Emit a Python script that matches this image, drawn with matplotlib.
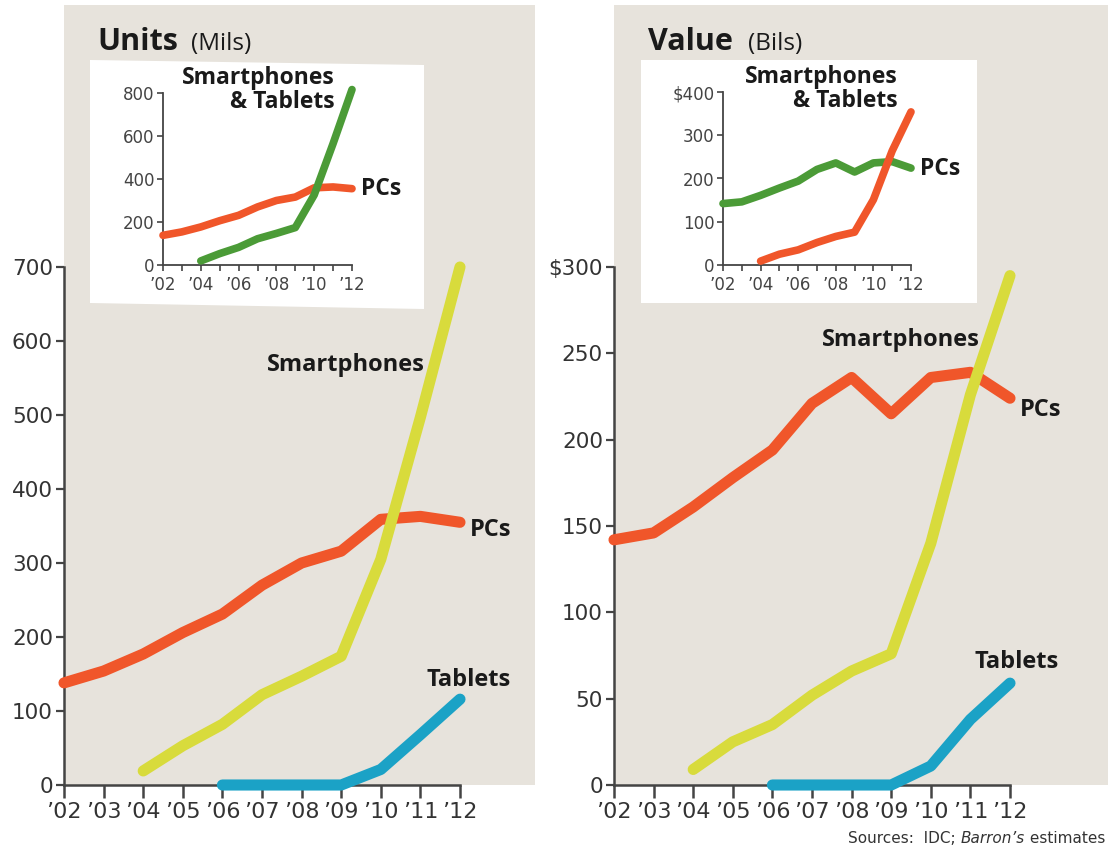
import matplotlib
matplotlib.use("Agg")
import matplotlib.pyplot as plt
import numpy as np
from matplotlib.patches import Polygon, Rectangle
from matplotlib.ticker import FixedLocator

# Shipments (millions of units) and sales (billions of dollars), 2002-2012
years = [2002, 2003, 2004, 2005, 2006, 2007, 2008, 2009, 2010, 2011, 2012]
phone_years = years[2:]
tablet_years = years[4:]

units_pcs = [138, 154, 177, 206, 231, 270, 300, 316, 359, 363, 355]
units_phones = [19, 53, 82, 122, 147, 174, 305, 497, 700]
units_tablets = [0, 0, 0, 0, 21, 68, 116]

value_pcs = [142, 146, 161, 178, 194, 221, 236, 215, 236, 239, 224]
value_phones = [9, 25, 35, 52, 66, 76, 140, 226, 295]
value_tablets = [0, 0, 0, 0, 11, 38, 59]

year_labels = ["\u201902", "\u201903", "\u201904", "\u201905", "\u201906", "\u201907",
               "\u201908", "\u201909", "\u201910", "\u201911", "\u201912"]

RED = "#f0562a"
YELLOW = "#d8db3c"
BLUE = "#1ba2c6"
GREEN = "#4b9b37"
PANEL = "#e7e3dc"
INK = "#333333"

W, H = 1108, 847
LABEL_FONT = ["Open Sans", "DejaVu Sans"]
TICK_FONT = ["DejaVu Sans"]

fig = plt.figure(figsize=(W / 100, H / 100), dpi=100)
fig.patch.set_facecolor("white")


def add_px_axes(left, top, right, bottom, **kw):
    return fig.add_axes([left / W, 1 - bottom / H, (right - left) / W, (bottom - top) / H], **kw)


def combined(phones, tablets):
    # smartphones + tablets, tablets only counted from 2006 on
    total = np.array(phones, dtype=float)
    total[2:] += np.array(tablets, dtype=float)
    return total


def style_main(ax, ymax_tick, ystep, yfmt):
    ax.set_facecolor(PANEL)
    for s in ("top", "right"):
        ax.spines[s].set_visible(False)
    for s in ("left", "bottom"):
        ax.spines[s].set_color("#444444")
        ax.spines[s].set_linewidth(1.8)
    ax.spines["left"].set_bounds(0, ymax_tick)
    ax.spines["bottom"].set_bounds(2002, 2012)
    yt = list(range(0, ymax_tick + 1, ystep))
    ax.set_yticks(yt)
    ax.set_yticklabels([yfmt(v) for v in yt])
    ax.set_xticks(years)
    ax.set_xticklabels(year_labels)
    ax.tick_params(axis="y", direction="out", length=6, width=1.6, color="#444444",
                   pad=2, labelsize=15.5, labelcolor=INK)
    ax.tick_params(axis="x", direction="out", length=9, width=1.8, color="#444444",
                   pad=3, labelsize=16, labelcolor=INK)
    for lab in ax.get_xticklabels() + ax.get_yticklabels():
        lab.set_family(TICK_FONT)


def style_inset(ax, ymax, ystep, yfmt):
    ax.patch.set_visible(False)
    for s in ("top", "right"):
        ax.spines[s].set_visible(False)
    for s in ("left", "bottom"):
        ax.spines[s].set_color("#444444")
        ax.spines[s].set_linewidth(1.3)
    ax.set_xlim(2002, 2012)
    ax.set_ylim(0, ymax)
    yt = list(range(0, ymax + 1, ystep))
    ax.set_yticks(yt)
    ax.set_yticklabels([yfmt(v) for v in yt])
    ax.set_xticks(years[::2])
    ax.set_xticklabels(year_labels[::2])
    ax.xaxis.set_minor_locator(FixedLocator(years[1::2]))
    ax.tick_params(axis="y", direction="out", length=4, width=1.2, color="#444444",
                   pad=2, labelsize=12, labelcolor="#444444")
    ax.tick_params(axis="x", which="both", direction="out", length=4, width=1.2,
                   color="#444444", pad=4, labelsize=12, labelcolor="#444444")
    for lab in ax.get_xticklabels() + ax.get_yticklabels():
        lab.set_family(TICK_FONT)


def line(ax, x, y, color, lw):
    ax.plot(x, y, color=color, lw=lw, solid_capstyle="round", solid_joinstyle="round",
            clip_on=False, zorder=3)


def label(ax, x, y, text, ha="left", size=17):
    ax.text(x, y, text, ha=ha, va="center", fontsize=size, fontweight="bold",
            family=LABEL_FONT, color="#1a1a1a", zorder=5, linespacing=1.0)


# ---- Units (left) ----
ax_u = add_px_axes(64, 5, 535, 785)
ax_u.set_xlim(2002, 2002 + (535 - 64) / 39.6)
ax_u.set_ylim(0, 780 / 0.74)
style_main(ax_u, 700, 100, lambda v: f"{v}")
line(ax_u, years, units_pcs, RED, 8)
line(ax_u, tablet_years, units_tablets, BLUE, 8)
line(ax_u, phone_years, units_phones, YELLOW, 8)
label(ax_u, 2011.12, 568, "Smartphones", ha="right")
label(ax_u, 2012.25, 345, "PCs")
label(ax_u, 2011.15, 142, "Tablets")

# ---- Value (right) ----
ax_v = add_px_axes(614, 5, 1108, 785)
ax_v.set_xlim(2002, 2002 + (1108 - 614) / 39.6)
ax_v.set_ylim(0, 300 * 780 / 518)
style_main(ax_v, 300, 50, lambda v: f"${v}" if v == 300 else f"{v}")
line(ax_v, years, value_pcs, RED, 8)
line(ax_v, tablet_years, value_tablets, BLUE, 8)
line(ax_v, phone_years, value_phones, YELLOW, 8)
label(ax_v, 2011.24, 258, "Smartphones", ha="right")
label(ax_v, 2012.25, 217, "PCs")
label(ax_v, 2011.1, 71, "Tablets")

# ---- white boxes behind the small charts ----
box_l = Polygon([[90 / W, 1 - 60 / H], [424 / W, 1 - 65 / H], [424 / W, 1 - 309 / H], [90 / W, 1 - 303 / H]],
                closed=True, transform=fig.transFigure, facecolor="white", edgecolor="none", zorder=0.5)
box_r = Rectangle((641 / W, 1 - 303 / H), (977 - 641) / W, (303 - 60) / H,
                  transform=fig.transFigure, facecolor="white", edgecolor="none", zorder=0.5)
fig.patches.extend([box_l, box_r])

# ---- Units inset: PCs vs smartphones + tablets ----
in_u = add_px_axes(163, 93, 352, 265, zorder=1)
style_inset(in_u, 800, 200, lambda v: f"{v}")
line(in_u, years, units_pcs, RED, 5.5)
line(in_u, phone_years, combined(units_phones, units_tablets), GREEN, 5.5)
label(in_u, 2011.1, 816, "Smartphones\n& Tablets", ha="right", size=16.5)
label(in_u, 2012.45, 352, "PCs", size=16.5)

# ---- Value inset ----
in_v = add_px_axes(723, 92, 911, 265, zorder=1)
style_inset(in_v, 400, 100, lambda v: f"${v}" if v == 400 else f"{v}")
line(in_v, years, value_pcs, GREEN, 5.5)
line(in_v, phone_years, combined(value_phones, value_tablets), RED, 5.5)
label(in_v, 2011.3, 406, "Smartphones\n& Tablets", ha="right", size=16.5)
label(in_v, 2012.5, 222, "PCs", size=16.5)

# ---- titles ----
fig.text(97 / W, 1 - 50 / H, "Units", fontsize=22, fontweight="bold", family=LABEL_FONT,
         color="#1a1a1a", va="baseline")
fig.text(191 / W, 1 - 50 / H, "(Mils)", fontsize=17.5, family=LABEL_FONT,
         color="#1a1a1a", va="baseline")
fig.text(648 / W, 1 - 50 / H, "Value", fontsize=22, fontweight="bold", family=LABEL_FONT,
         color="#1a1a1a", va="baseline")
fig.text(748 / W, 1 - 50 / H, "(Bils)", fontsize=17.5, family=LABEL_FONT,
         color="#1a1a1a", va="baseline")

# ---- source line ----
src_end = fig.text(1105 / W, 1 - 843 / H, " estimates", fontsize=11, family=TICK_FONT,
                   color=INK, ha="right", va="baseline")
src_mid = fig.text(0, 0, "Barron\u2019s", fontsize=11, family=TICK_FONT, style="italic",
                   color=INK, ha="right", va="baseline")
src_start = fig.text(0, 0, "Sources:  IDC; ", fontsize=11, family=TICK_FONT,
                     color=INK, ha="right", va="baseline")
fig.canvas.draw()
r = fig.canvas.get_renderer()
x0 = src_end.get_window_extent(r).x0
src_mid.set_position((x0 / W, 1 - 843 / H))
fig.canvas.draw()
x1 = src_mid.get_window_extent(r).x0
src_start.set_position((x1 / W, 1 - 843 / H))

fig.savefig("out.png", dpi=100, facecolor="white")
